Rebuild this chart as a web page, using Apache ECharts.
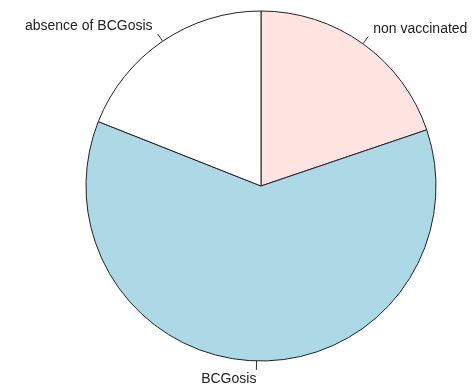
<!DOCTYPE html>
<html>
<head>
<meta charset="UTF-8">
<title></title>
<script src="https://cdn.jsdelivr.net/npm/echarts@6/dist/echarts.min.js"></script>
<style type="text/css">
	*{margin:0;padding:0;}
	body{background:#fff;}
	#main{width:472px;height:392px;}
</style>
</head>
<body>
<div id="main"></div>
<script type="text/javascript">
// slices go clockwise from 12 o'clock, like R's pie(clockwise=TRUE)
var names = ['non vaccinated', 'BCGosis', 'absence of BCGosis'];
var values = [19.8, 61.2, 19.0];
var colors = ['#FFE4E1', '#ADD8E6', '#FFFFFF'];

var radius = 175;
var total = values.reduce(function(a, b){ return a + b; }, 0);

// R puts the text at 1.1*r, the tick runs from r to 1.05*r
var seriesData = [];
var shiftY = [];
var acc = 0;
for (var i = 0; i < values.length; i++) {
	var mid = (acc + values[i] / 2) / total * Math.PI * 2;
	acc += values[i];
	var dx = Math.sin(mid), dy = -Math.cos(mid);
	shiftY.push(radius * 0.05 * dy);
	seriesData.push({
		name: names[i],
		value: values[i],
		itemStyle: {color: colors[i]},
		label: {
			distanceToLabelLine: Math.round(radius * 0.05 * Math.abs(dx))
		}
	});
}

var myChart = echarts.init(document.getElementById('main'));
var option = {
	backgroundColor: '#fff',
	animation: false,
	series: [
		{
			type: 'pie',
			center: [261, 186],
			radius: radius,
			startAngle: 90,
			clockwise: true,
			avoidLabelOverlap: false,
			silent: true,
			itemStyle: {borderColor: '#222', borderWidth: 1},
			label: {
				show: true,
				position: 'outside',
				color: '#222',
				fontFamily: 'Liberation Sans, Arial, sans-serif',
				fontSize: 14
			},
			labelLine: {
				show: true,
				length: 9,
				length2: 0,
				lineStyle: {color: '#333', width: 1}
			},
			labelLayout: function(params){
				return {dy: shiftY[params.dataIndex]};
			},
			emphasis: {disabled: true},
			data: seriesData
		}
	]
};
myChart.setOption(option);
</script>
</body>
</html>
